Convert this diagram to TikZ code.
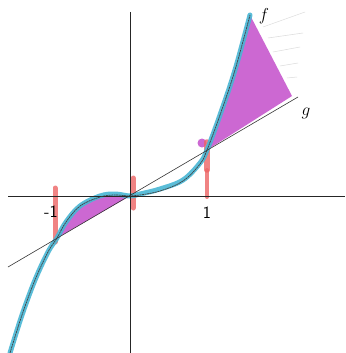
\documentclass[tikz,border=0pt]{standalone}
\definecolor{fcyancol}{RGB}{72,182,212}
\definecolor{purp}{RGB}{204,104,210}
\definecolor{redm}{RGB}{236,100,100}
\begin{document}
\begin{tikzpicture}[x=1pt,y=-1pt,
  axisline/.style={black!85,line width=0.8pt},
  glight/.style={black!80,line width=0.6pt},
  fdark/.style={black!75,line width=0.7pt,dash pattern=on 2pt off 0.6pt},
  fcyan/.style={fcyancol,line width=5pt,line cap=round,opacity=0.9},
  redmark/.style={redm,line width=5pt,line cap=round,opacity=0.8},
  purplefill/.style={fill=purp},
  hatch/.style={black!14,line width=0.5pt},
  lbl/.style={font=\sffamily\LARGE}]
\useasboundingbox (0,0) rectangle (345,353);
% named coordinates
\coordinate (O) at (130,196);
\coordinate (gA) at (8,267);
\coordinate (gB) at (298,97);
\coordinate (pL) at (57,238);
\coordinate (pR) at (207,150);
\coordinate (ftop) at (250,15);
\coordinate (tri) at (292,96);
% purple regions
\fill[purplefill] plot[smooth,tension=0.6] coordinates {(57,238) (66,222) (80,206) (100,197) (115,195) (130,196)} -- cycle;
\fill[purplefill] plot[smooth,tension=0.6] coordinates {(207,150) (220,115) (235,70) (250,15)} -- (tri) -- cycle;
\fill[purplefill] (202,143) circle (4.5);
% faint pencil hatching
\draw[hatch] (263,27) -- (305,12);
\draw[hatch] (268,38) -- (303,33);
\draw[hatch] (273,52) -- (300,47);
\draw[hatch] (280,66) -- (298,63);
\draw[hatch] (287,78) -- (297,77);
% red marks
\draw[redmark] (55,188) -- (55,242);
\draw[redmark] (133,178) -- (133,208);
\draw[redmark,line width=5.5pt] (207,142) -- (207,170);
\draw[redmark,line width=4pt] (207,170) -- (207,197);
% cyan highlight of f
\draw[fcyan] plot[smooth,tension=0.6] coordinates {(10,353) (22,315) (35,280) (48,252) (57,238) (66,222) (80,206) (100,196) (115,194) (130,196) (140,194) (160,189) (183,180) (200,163) (207,150) (220,115) (235,70) (250,15)};
% axes
\draw[axisline] (130,12) -- (130,353);
\draw[axisline] (8,196) -- (345,196);
% g
\draw[glight] (gA) -- (gB);
% f dark
\draw[fdark] plot[smooth,tension=0.6] coordinates {(10,353) (22,315) (35,280) (48,252) (57,238) (66,222) (80,206) (100,197) (115,195) (130,196) (140,195) (160,191) (183,181) (200,164) (207,150) (220,115) (235,70) (250,15)};
% labels
\node[lbl] (m1) at (51,212) {-1};
\node[lbl] (p1) at (207,213) {1};
\node[font=\LARGE] (fl) at (264,16) {$f$};
\node[font=\LARGE] (gl) at (306,113) {$g$};
\end{tikzpicture}
\end{document}
